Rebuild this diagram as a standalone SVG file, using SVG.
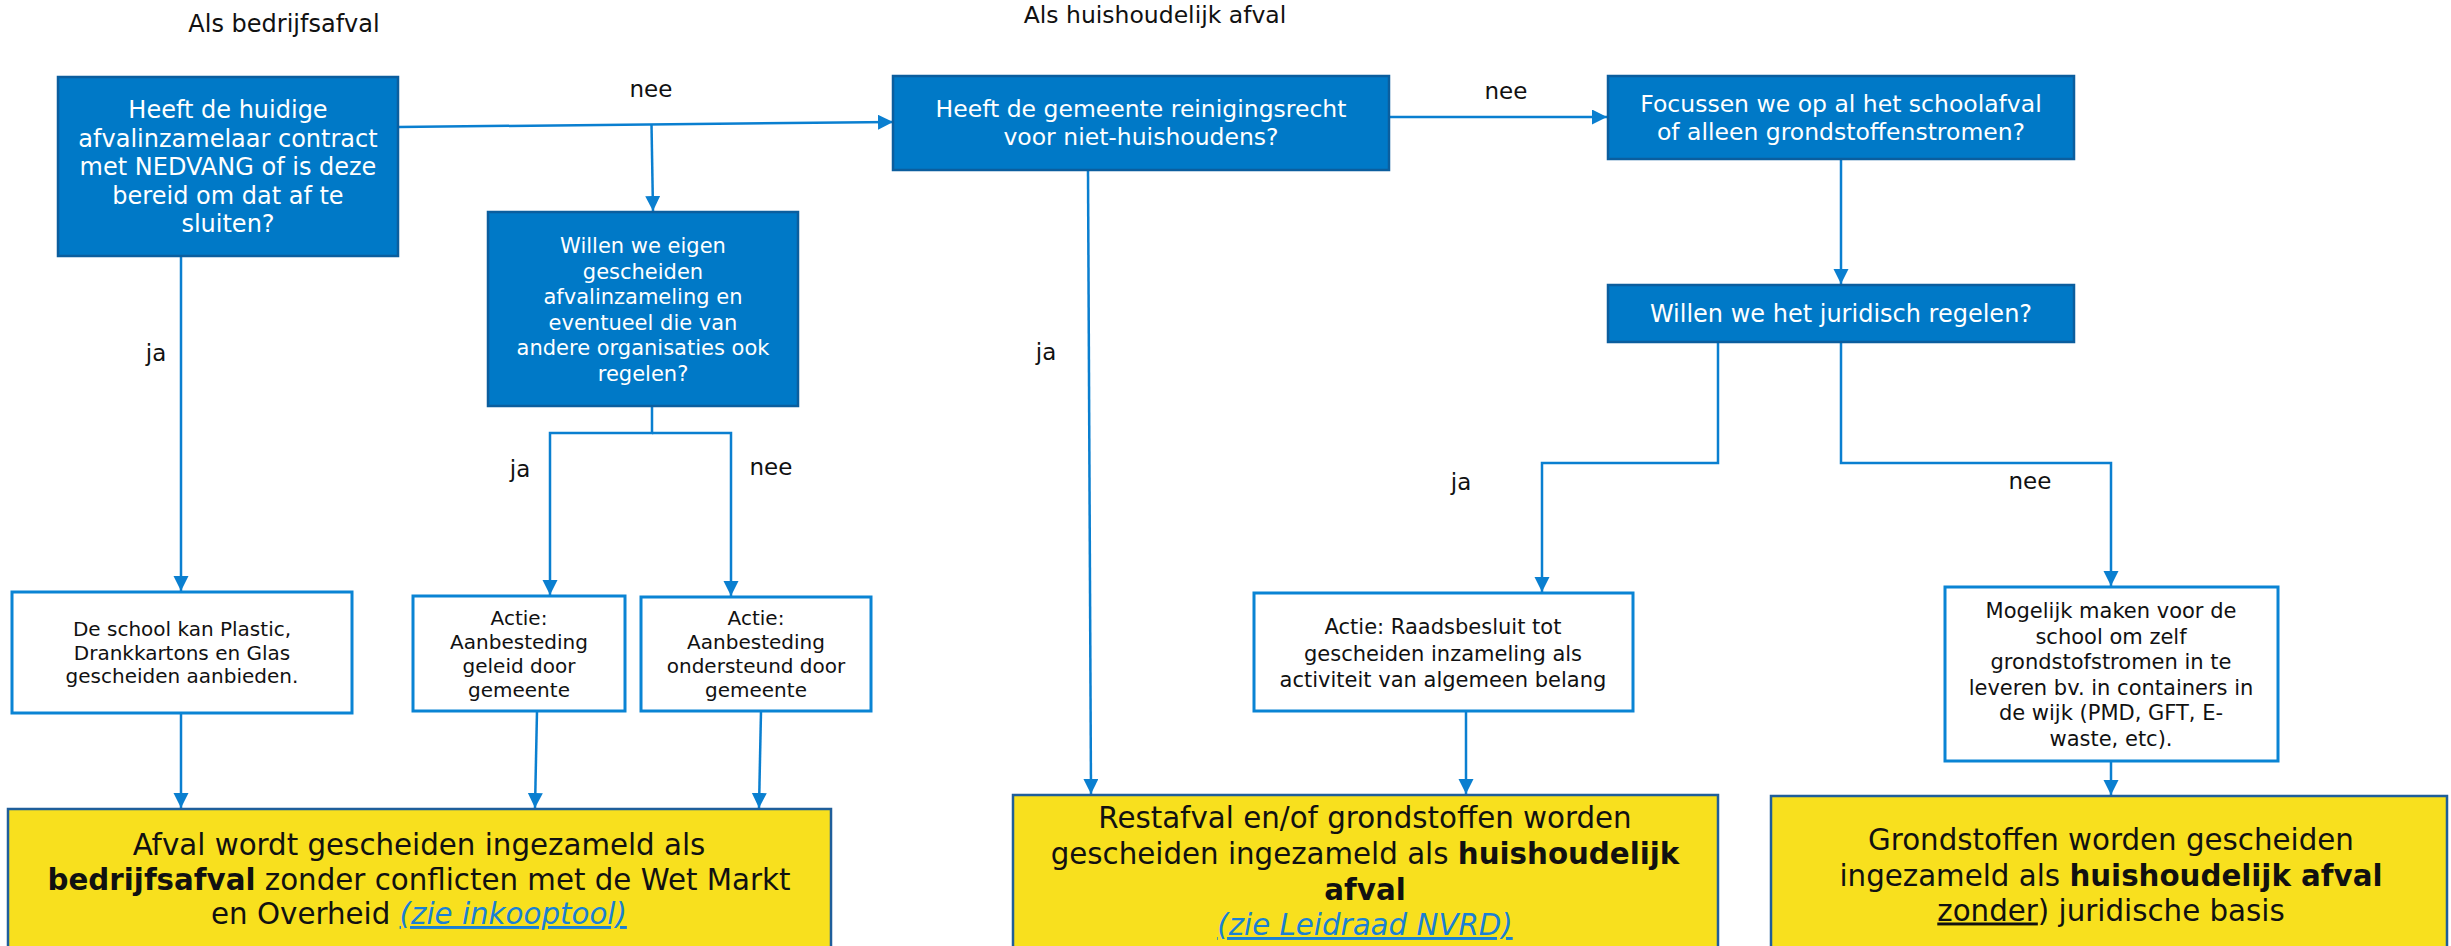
<svg xmlns="http://www.w3.org/2000/svg" width="2451" height="946" viewBox="0 0 2451 946">
<style>
text{font-family:"DejaVu Sans",Verdana,sans-serif;text-anchor:middle}
.q{fill:#0079C7;stroke:#0B5E9E;stroke-width:2.5}
.a{fill:#fff;stroke:#0A84D4;stroke-width:3}
.y{fill:#F8E01E;stroke:#1F5E9A;stroke-width:2.5}
.tw{fill:#fff}
.tb{fill:#111}
.c{fill:none;stroke:#0A7FD0;stroke-width:2.5;marker-end:url(#ah)}
.lbl{font-size:23px;fill:#111}
.b{font-weight:bold}
.lnk{fill:#1A80D4;font-style:italic;text-decoration:underline}
.u{text-decoration:underline}
</style>
<defs>
<marker id="ah" markerUnits="userSpaceOnUse" markerWidth="16" markerHeight="16" refX="15" refY="7.5" orient="auto">
<path d="M0,0 L15,7.5 L0,15 Z" fill="#0A7FD0"/>
</marker>
</defs>
<rect width="2451" height="946" fill="#fff"/>
<g id="titles">
<text x="284" y="32" font-size="24" class="tb">Als bedrijfsafval</text>
<text x="1155" y="23" font-size="23.5" class="tb">Als huishoudelijk afval</text>
</g>
<g id="connectors">
<path class="c" d="M398,127 L893,122"/>
<path class="c" d="M651.5,124.5 L653,211"/>
<path class="c" d="M181,256 L181,591"/>
<path class="c" d="M652,406 V433 H550 V595"/>
<path class="c" d="M652,433 H731 V596"/>
<path class="c" d="M181,713 L181,808"/>
<path class="c" d="M537,711 L535,808"/>
<path class="c" d="M761,711 L759,808"/>
<path class="c" d="M1088,170 L1091,794"/>
<path class="c" d="M1389,117 L1607,117"/>
<path class="c" d="M1841,159 L1841,284"/>
<path class="c" d="M1718,342 V463 H1542 V592"/>
<path class="c" d="M1841,342 V463 H2111 V586"/>
<path class="c" d="M1466,711 L1466,794"/>
<path class="c" d="M2111,761 L2111,795"/>
</g>
<g id="labels">
<text class="lbl" x="651" y="97">nee</text>
<text class="lbl" x="1506" y="99">nee</text>
<text class="lbl" x="156" y="361">ja</text>
<text class="lbl" x="1046" y="360">ja</text>
<text class="lbl" x="520" y="477">ja</text>
<text class="lbl" x="771" y="475">nee</text>
<text class="lbl" x="1461" y="490">ja</text>
<text class="lbl" x="2030" y="489">nee</text>
</g>
<g id="q-contract">
<rect class="q" x="58" y="77" width="340" height="179"/>
<text class="tw" font-size="24"><tspan x="228" y="118">Heeft de huidige</tspan><tspan x="228" y="146.5">afvalinzamelaar contract</tspan><tspan x="228" y="175">met NEDVANG of is deze</tspan><tspan x="228" y="203.5">bereid om dat af te</tspan><tspan x="228" y="232">sluiten?</tspan></text>
</g>
<g id="q-eigen">
<rect class="q" x="488" y="212" width="310" height="194"/>
<text class="tw" font-size="21"><tspan x="643" y="253">Willen we eigen</tspan><tspan x="643" y="278.5">gescheiden</tspan><tspan x="643" y="304">afvalinzameling en</tspan><tspan x="643" y="329.5">eventueel die van</tspan><tspan x="643" y="355">andere organisaties ook</tspan><tspan x="643" y="380.5">regelen?</tspan></text>
</g>
<g id="a-school">
<rect class="a" x="12" y="592" width="340" height="121"/>
<text class="tb" font-size="20"><tspan x="182" y="636">De school kan Plastic,</tspan><tspan x="182" y="659.5">Drankkartons en Glas</tspan><tspan x="182" y="683">gescheiden aanbieden.</tspan></text>
</g>
<g id="a-geleid">
<rect class="a" x="413" y="596" width="212" height="115"/>
<text class="tb" font-size="20"><tspan x="519" y="625">Actie:</tspan><tspan x="519" y="649">Aanbesteding</tspan><tspan x="519" y="673">geleid door</tspan><tspan x="519" y="697">gemeente</tspan></text>
</g>
<g id="a-ondersteund">
<rect class="a" x="641" y="597" width="230" height="114"/>
<text class="tb" font-size="20"><tspan x="756" y="625">Actie:</tspan><tspan x="756" y="649">Aanbesteding</tspan><tspan x="756" y="673">ondersteund door</tspan><tspan x="756" y="697">gemeente</tspan></text>
</g>
<g id="q-reinigingsrecht">
<rect class="q" x="893" y="76" width="496" height="94"/>
<text class="tw" font-size="23.5"><tspan x="1141" y="117">Heeft de gemeente reinigingsrecht</tspan><tspan x="1141" y="145">voor niet-huishoudens?</tspan></text>
</g>
<g id="q-focus">
<rect class="q" x="1608" y="76" width="466" height="83"/>
<text class="tw" font-size="23.5"><tspan x="1841" y="112">Focussen we op al het schoolafval</tspan><tspan x="1841" y="140">of alleen grondstoffenstromen?</tspan></text>
</g>
<g id="q-juridisch">
<rect class="q" x="1608" y="285" width="466" height="57"/>
<text class="tw" font-size="24" x="1841" y="321.5">Willen we het juridisch regelen?</text>
</g>
<g id="a-raadsbesluit">
<rect class="a" x="1254" y="593" width="379" height="118"/>
<text class="tb" font-size="21"><tspan x="1443" y="634">Actie: Raadsbesluit tot</tspan><tspan x="1443" y="660.5">gescheiden inzameling als</tspan><tspan x="1443" y="687">activiteit van algemeen belang</tspan></text>
</g>
<g id="a-mogelijk">
<rect class="a" x="1945" y="587" width="333" height="174"/>
<text class="tb" font-size="21"><tspan x="2111" y="618">Mogelijk maken voor de</tspan><tspan x="2111" y="643.5">school om zelf</tspan><tspan x="2111" y="669">grondstofstromen in te</tspan><tspan x="2111" y="694.5">leveren bv. in containers in</tspan><tspan x="2111" y="720">de wijk (PMD, GFT, E-</tspan><tspan x="2111" y="745.5">waste, etc).</tspan></text>
</g>
<g id="r-bedrijfsafval">
<rect class="y" x="8" y="809" width="823" height="150"/>
<text class="tb" font-size="29.3"><tspan x="419" y="855">Afval wordt gescheiden ingezameld als</tspan><tspan x="419" y="889.5"><tspan class="b">bedrijfsafval</tspan> zonder conflicten met de Wet Markt</tspan><tspan x="419" y="924">en Overheid <tspan class="lnk">(zie inkooptool)</tspan></tspan></text>
</g>
<g id="r-huishoudelijk">
<rect class="y" x="1013" y="795" width="705" height="164"/>
<text class="tb" font-size="29.3"><tspan x="1365" y="828">Restafval en/of grondstoffen worden</tspan><tspan x="1365" y="864">gescheiden ingezameld als <tspan class="b">huishoudelijk</tspan></tspan><tspan x="1365" y="900" class="b">afval</tspan><tspan x="1365" y="935" class="lnk">(zie Leidraad NVRD)</tspan></text>
</g>
<g id="r-grondstoffen">
<rect class="y" x="1771" y="796" width="676" height="163"/>
<text class="tb" font-size="29.3"><tspan x="2111" y="850">Grondstoffen worden gescheiden</tspan><tspan x="2111" y="885.5">ingezameld als <tspan class="b">huishoudelijk afval</tspan></tspan><tspan x="2111" y="920.5"><tspan class="u">zonder</tspan>) juridische basis</tspan></text>
</g>
</svg>
